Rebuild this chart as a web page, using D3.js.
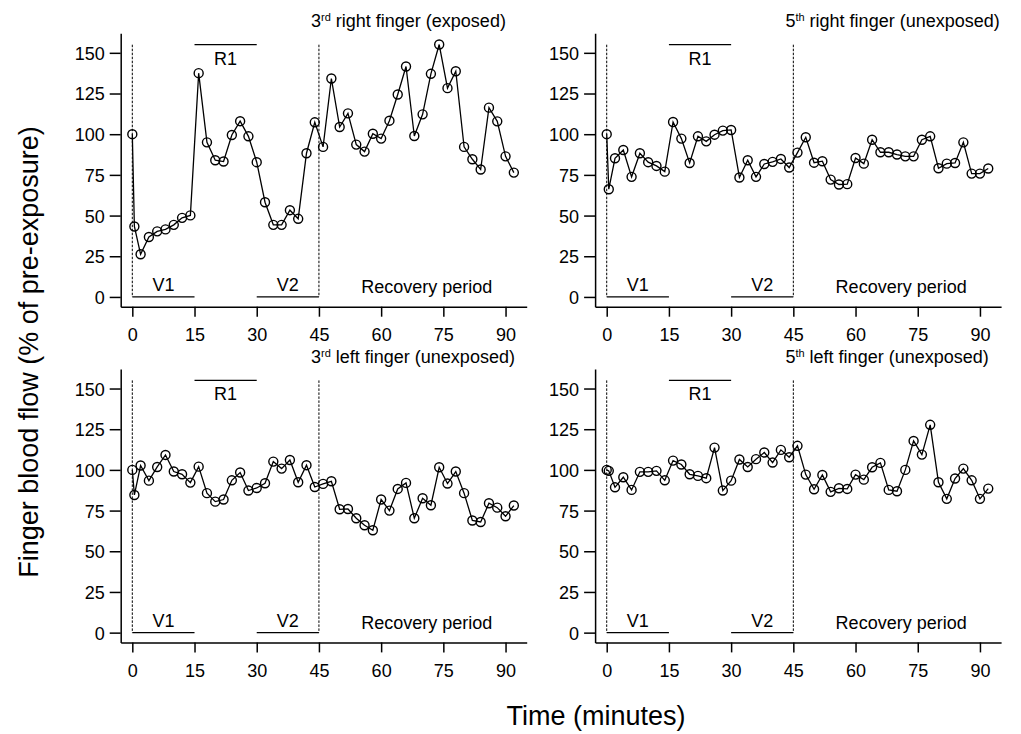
<!DOCTYPE html>
<html>
<head>
<meta charset="utf-8">
<script src="https://cdn.jsdelivr.net/npm/d3@7"></script>
<style>
	body { margin: 0; background: #fff; }
	svg { font-family: "Liberation Sans", Arial, sans-serif; }
	.axis path, .axis line { stroke: #000; stroke-width: 1.5; }
	.axis text { font-size: 18px; fill: #000; }
</style>
</head>
<body>
<svg id="chart" width="1021" height="734"></svg>
<script>

//------------------------------------------------------------------------------
// Data

var times = [0, 0.5, 2, 4, 6, 8, 10, 12, 14, 16, 18, 20, 22, 24, 26, 28, 30, 32,
	34, 36, 38, 40, 42, 44, 46, 48, 50, 52, 54, 56, 58, 60, 62, 64, 66, 68, 70,
	72, 74, 76, 78, 80, 82, 84, 86, 88, 90, 92];

var right3 = [100, 43.3, 26.2, 36.8, 40.3, 41.5, 44.3, 48.6, 50.1, 137.5, 95, 84,
	83.2, 99.5, 108, 98.7, 82.8, 58.2, 44.3, 44.3, 53.3, 48, 88.3, 107.3,
	92.2, 134.2, 104.4, 112.8, 93.6, 89.3, 100.3, 97.3, 108.3, 124.4, 141.6, 98.9,
	112.2, 137.1, 155.1, 128.3, 138.7, 92.2, 84.6, 78.3, 116.3, 107.9, 86.4, 76.4];

var right5 = [100, 66.2, 85.2, 90.3, 73.8, 88.3, 82.8, 80.5, 77, 107.5, 97.3, 82.3,
	98.7, 95.6, 99.7, 102.2, 102.6, 73.4, 84, 73.8, 81.7, 83, 84.8, 79.5,
	88.7, 98.1, 82.5, 83.4, 72.1, 69.1, 69.3, 85.4, 81.9, 96.6, 88.9, 88.9,
	87.5, 86.4, 86.4, 96.6, 98.7, 79.1, 81.9, 82.3, 95, 75.8, 75.8, 78.9];

var left3 = [100, 84.6, 102.7, 93.4, 101.8, 109.2, 99, 97.3, 92.2, 102, 85.7, 80.5,
	81.8, 93.6, 98.4, 87.3, 88.9, 91.8, 105.1, 100.8, 106.1, 92.4, 102.9, 89.5,
	91.4, 93, 75.8, 76, 70.3, 66, 62.9, 81.8, 75, 88.3, 92, 70.3,
	82.6, 78.3, 101.6, 91.6, 99, 85.7, 68.9, 68, 79.5, 76.8, 71.5, 78.1];

var left5 = [100, 99.4, 89.3, 95.5, 87.7, 98.8, 98.8, 99.4, 93.6, 105.7, 103.3, 97.3,
	96.3, 94.9, 113.7, 87.3, 93.4, 106.4, 101.8, 106.6, 110.7, 104.5, 112.3, 107.8,
	114.8, 97.1, 88.1, 96.9, 86.5, 88.7, 88.3, 97.1, 94, 101.6, 104.3, 87.7,
	86.9, 100, 117.8, 109.4, 127.7, 92.4, 82.2, 94.7, 100.8, 93.6, 82.2, 88.5];

var xTicks = [0, 15, 30, 45, 60, 75, 90];
var yTicks = [0, 25, 50, 75, 100, 125, 150];

// periods: [start, end, label]
var vPeriods = [[0, 15, 'V1'], [30, 45, 'V2']];
var rPeriod = [15, 30, 'R1'];
var markers = [0, 45];

var panels = [
	{ num: '3', sup: 'rd', rest: ' right finger (exposed)', values: right3, col: 0, row: 0 },
	{ num: '5', sup: 'th', rest: ' right finger (unexposed)', values: right5, col: 1, row: 0 },
	{ num: '3', sup: 'rd', rest: ' left finger (unexposed)', values: left3, col: 0, row: 1 },
	{ num: '5', sup: 'th', rest: ' left finger (unexposed)', values: left5, col: 1, row: 1 }
];

//------------------------------------------------------------------------------
// Scales

var svg = d3.select('#chart');

var x = d3.scaleLinear().domain([-2.8, 95.1]).range([120.7, 526.7]);
var y = d3.scaleLinear().domain([-6, 162]).range([306.7, 33.3]);

var colStep = 474.4;
var rowStep = 335.7;

var line = d3.line()
	.x(function (d) { return x(d[0]); })
	.y(function (d) { return y(d[1]); });

//------------------------------------------------------------------------------
// Panels

panels.forEach(function (p) {
	var g = svg.append('g')
		.attr('transform', 'translate(' + (p.col * colStep) + ',' + (p.row * rowStep) + ')');

	g.append('g')
		.attr('class', 'axis')
		.attr('transform', 'translate(' + x.range()[0] + ',0)')
		.call(d3.axisLeft(y).tickValues(yTicks).tickSize(11).tickSizeOuter(0).tickPadding(5))
		.call(function (a) { a.selectAll('text').attr('dy', '0.36em'); });

	g.append('g')
		.attr('class', 'axis')
		.attr('transform', 'translate(0,' + y.range()[0] + ')')
		.call(d3.axisBottom(x).tickValues(xTicks).tickSize(10).tickSizeOuter(0).tickPadding(12));

	g.selectAll('.marker')
		.data(markers)
		.enter().append('line')
		.attr('x1', function (d) { return x(d); })
		.attr('x2', function (d) { return x(d); })
		.attr('y1', y(155))
		.attr('y2', y(0))
		.attr('stroke', '#000')
		.attr('stroke-width', 1)
		.attr('stroke-dasharray', '2.5,1.5');

	g.selectAll('.vbar')
		.data(vPeriods)
		.enter().append('line')
		.attr('x1', function (d) { return x(d[0]); })
		.attr('x2', function (d) { return x(d[1]); })
		.attr('y1', y(0))
		.attr('y2', y(0))
		.attr('stroke', '#000')
		.attr('stroke-width', 1.3);

	g.selectAll('.vlabel')
		.data(vPeriods)
		.enter().append('text')
		.attr('x', function (d) { return x((d[0] + d[1]) / 2); })
		.attr('y', y(0) - 5.5)
		.attr('text-anchor', 'middle')
		.attr('font-size', 18)
		.text(function (d) { return d[2]; });

	g.append('line')
		.attr('x1', x(rPeriod[0]))
		.attr('x2', x(rPeriod[1]))
		.attr('y1', y(155))
		.attr('y2', y(155))
		.attr('stroke', '#000')
		.attr('stroke-width', 1.3);

	g.append('text')
		.attr('x', x((rPeriod[0] + rPeriod[1]) / 2))
		.attr('y', y(155) + 20)
		.attr('text-anchor', 'middle')
		.attr('font-size', 18)
		.text(rPeriod[2]);

	g.append('text')
		.attr('x', x(71))
		.attr('y', y(0) - 4)
		.attr('text-anchor', 'middle')
		.attr('font-size', 18)
		.text('Recovery period');

	var title = g.append('text')
		.attr('x', 311)
		.attr('y', 27)
		.attr('font-size', 18);
	title.append('tspan').text(p.num);
	title.append('tspan').attr('dy', -6).attr('font-size', 11).text(p.sup);
	title.append('tspan').attr('dy', 6).text(p.rest);

	var pts = times.map(function (t, i) { return [t, p.values[i]]; });

	g.append('path')
		.datum(pts)
		.attr('d', line)
		.attr('fill', 'none')
		.attr('stroke', '#000')
		.attr('stroke-width', 1.3);

	g.selectAll('circle')
		.data(pts)
		.enter().append('circle')
		.attr('cx', function (d) { return x(d[0]); })
		.attr('cy', function (d) { return y(d[1]); })
		.attr('r', 4.5)
		.attr('fill', 'none')
		.attr('stroke', '#000')
		.attr('stroke-width', 1.4);
});

//------------------------------------------------------------------------------
// Axis titles

svg.append('text')
	.attr('transform', 'translate(38,352) rotate(-90)')
	.attr('text-anchor', 'middle')
	.attr('font-size', 27)
	.text('Finger blood flow (% of pre-exposure)');

svg.append('text')
	.attr('x', 596)
	.attr('y', 725)
	.attr('text-anchor', 'middle')
	.attr('font-size', 27)
	.text('Time (minutes)');

</script>
</body>
</html>
